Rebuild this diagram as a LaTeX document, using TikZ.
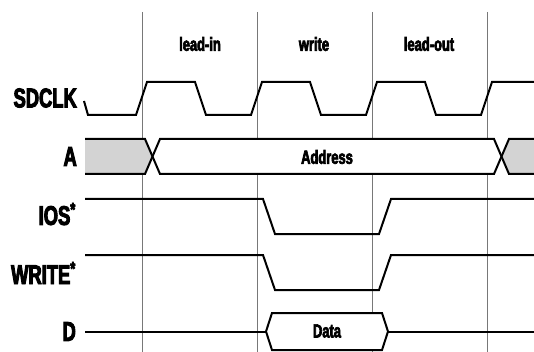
\documentclass[tikz,border=0pt]{standalone}
\usepackage{fontspec}
\newfontfamily\heavyfont{Liberation Sans}[UprightFont={* Bold},FakeStretch=0.68,FakeBold=3.5]
\usepackage{tikz}
\definecolor{busgray}{RGB}{211,211,211}
\definecolor{gridgray}{RGB}{120,120,120}

\begin{document}
\begin{tikzpicture}[x=1pt,y=-1pt,
  sig/.style={line width=2pt,line join=miter},
  grid/.style={gridgray,line width=0.8pt},
  signame/.style={anchor=east,inner sep=0pt,font=\heavyfont\fontsize{27}{27}\selectfont},
  phase/.style={inner sep=0pt,font=\heavyfont\fontsize{19}{19}\selectfont}]
\useasboundingbox (0,0) rectangle (534,352);
% clock phases
\foreach \x in {142,257,372,487}
  \draw[grid] (\x,12) -- (\x,352);
\node[phase] (leadin) at (200,44) {lead-in};
\node[phase] (wr) at (314,44) {write};
\node[phase] (leadout) at (429,44) {lead-out};
% signal names
\node[signame] (sdclk) at (77,98) {SDCLK};
\node[signame] (a) at (77,156.5) {A};
\node[signame] (ios) at (76,214) {IOS\textsuperscript{*}};
\node[signame] (write) at (76,273) {WRITE\textsuperscript{*}};
\node[signame] (d) at (76,331.5) {D};
% SDCLK
\draw[sig] (84,101) -- (88,115)
  \foreach \x in {142,257,372} {-- (\x-6,115) -- (\x+5,82) -- (\x+53,82) -- (\x+64,115)}
  -- (481,115) -- (492,82) -- (534,82);
% A
\fill[busgray] (85,139) -- (145,139) -- (152.5,156.5) -- (145,174) -- (85,174) -- cycle;
\fill[busgray] (501.5,156.5) -- (509,139) -- (534,139) -- (534,174) -- (509,174) -- cycle;
\fill[white] (152.5,156.5) -- (160,139) -- (494,139) -- (501.5,156.5) -- (494,174) -- (160,174) -- cycle;
\draw[sig] (85,139) -- (145,139) -- (160,174) -- (494,174) -- (509,139) -- (534,139);
\draw[sig] (85,174) -- (145,174) -- (160,139) -- (494,139) -- (509,174) -- (534,174);
\node[phase] (addr) at (327,157) {Address};
% IOS* and WRITE*
\draw[sig] (85,199) -- (263,199) -- (275,234) -- (379,234) -- (391,199) -- (534,199);
\draw[sig] (85,255) -- (263,255) -- (275,290) -- (379,290) -- (391,255) -- (534,255);
% D
\draw[sig,fill=white] (266,331.5) -- (272,313) -- (382,313) -- (388,331.5) -- (382,350) -- (272,350) -- cycle;
\draw[sig] (85,331.5) -- (266,331.5);
\draw[sig] (388,331.5) -- (534,331.5);
\node[phase] (data) at (327,331) {Data};
\end{tikzpicture}
\end{document}
